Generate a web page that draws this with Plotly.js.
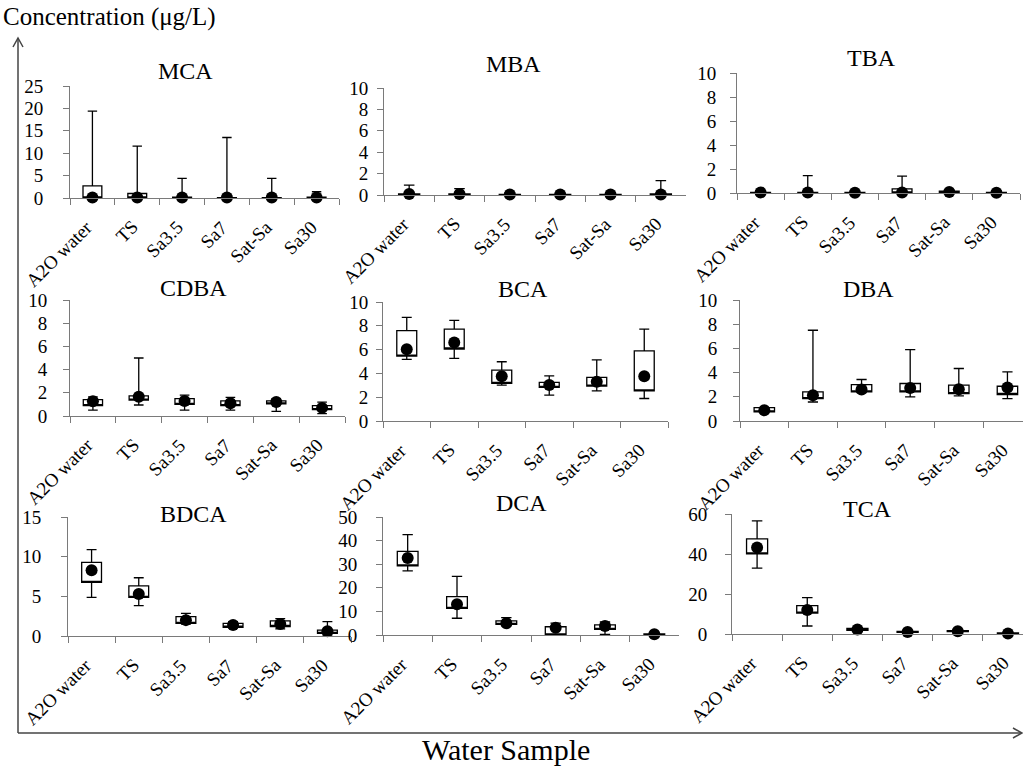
<!DOCTYPE html>
<html>
<head>
<meta charset="utf-8">
<script src="https://cdn.plot.ly/plotly-3.0.1.min.js"></script>
<style>html,body{margin:0;padding:0;background:#fff;}#chart{width:1023px;height:768px;}</style>
</head>
<body>
<div id="chart"></div>
<script>
// ---- Data ----
const samples = ["A2O water", "TS", "Sa3.5", "Sa7", "Sat-Sa", "Sa30"];
const compounds = ["MCA", "MBA", "TBA", "CDBA", "BCA", "DBA", "BDCA", "DCA", "TCA"];

const MCA_low  = [0, 0, 0, 0, 0, 0];
const MCA_q1   = [0, 0, 0, 0, 0, 0];
const MCA_q3   = [2.7, 1.0, 0.2, 0.1, 0.1, 0.2];
const MCA_high = [19.4, 11.6, 4.4, 13.5, 4.4, 1.4];
const MCA_mean = [0.1, 0.1, 0.1, 0.1, 0.1, 0.1];

const MBA_low  = [0, 0, 0, 0, 0, 0];
const MBA_q1   = [0, 0, 0, 0, 0, 0];
const MBA_q3   = [0.1, 0.1, 0.05, 0.05, 0.05, 0.1];
const MBA_high = [0.93, 0.6, 0.2, 0.1, 0.1, 1.34];
const MBA_mean = [0.1, 0.1, 0.05, 0.05, 0.05, 0.05];

const TBA_low  = [0, 0, 0, 0, 0, 0];
const TBA_q1   = [0, 0, 0, 0, 0, 0];
const TBA_q3   = [0.05, 0.05, 0.05, 0.35, 0.15, 0.05];
const TBA_high = [0.1, 1.45, 0.1, 1.4, 0.25, 0.1];
const TBA_mean = [0.05, 0.05, 0.03, 0.05, 0.08, 0.03];

const CDBA_low  = [0.5, 0.95, 0.5, 0.5, 0.4, 0.2];
const CDBA_q1   = [0.9, 1.36, 1.0, 0.9, 1.05, 0.55];
const CDBA_q3   = [1.42, 1.73, 1.5, 1.3, 1.3, 0.9];
const CDBA_high = [1.65, 5.0, 1.8, 1.6, 1.5, 1.2];
const CDBA_mean = [1.27, 1.65, 1.3, 1.1, 1.2, 0.7];

const BCA_low  = [5.18, 5.27, 3.02, 2.17, 2.53, 1.89];
const BCA_q1   = [5.46, 6.05, 3.16, 2.82, 2.93, 2.53];
const BCA_q3   = [7.6, 7.72, 4.28, 3.24, 3.66, 5.89];
const BCA_high = [8.7, 8.45, 4.98, 3.8, 5.13, 7.72];
const BCA_mean = [6.03, 6.59, 3.77, 3.02, 3.29, 3.77];

const DBA_low  = [0.75, 1.57, 2.35, 1.99, 2.07, 1.85];
const DBA_q1   = [0.75, 1.85, 2.4, 2.4, 2.27, 2.19];
const DBA_q3   = [1.1, 2.4, 3.0, 3.1, 2.96, 2.87];
const DBA_high = [1.1, 7.5, 3.43, 5.9, 4.34, 4.06];
const DBA_mean = [0.88, 2.13, 2.6, 2.73, 2.63, 2.76];

const BDCA_low  = [4.87, 3.82, 1.5, 1.0, 0.9, 0.1];
const BDCA_q1   = [6.75, 4.87, 1.59, 1.1, 1.2, 0.33];
const BDCA_q3   = [9.27, 6.33, 2.43, 1.6, 1.9, 0.75];
const BDCA_high = [10.9, 7.34, 2.85, 1.8, 2.2, 1.8];
const BDCA_mean = [8.3, 5.28, 2.0, 1.4, 1.5, 0.6];

const DCA_low  = [27.2, 7.1, 4.0, 0, 0.3, 0.1];
const DCA_q1   = [29.3, 11.3, 4.5, 0, 2.4, 0.1];
const DCA_q3   = [35.4, 16.3, 5.95, 3.5, 4.25, 0.5];
const DCA_high = [42.5, 24.8, 7.4, 5.0, 5.5, 0.6];
const DCA_mean = [32.6, 13.0, 5.0, 3.1, 3.8, 0.3];

const TCA_low  = [32.9, 4.0, 1.5, 0.6, 1.0, 0.1];
const TCA_q1   = [40.1, 10.4, 1.8, 0.8, 1.2, 0.2];
const TCA_q3   = [47.6, 14.2, 2.8, 1.3, 1.7, 0.5];
const TCA_high = [56.6, 18.2, 3.0, 1.5, 1.9, 0.6];
const TCA_mean = [43.3, 12.0, 2.3, 1.0, 1.4, 0.3];

const yTickLabels = {
  MCA: [0, 5, 10, 15, 20, 25],
  MBA: [0, 2, 4, 6, 8, 10],
  TBA: [0, 2, 4, 6, 8, 10],
  CDBA: [0, 2, 4, 6, 8, 10],
  BCA: [0, 2, 4, 6, 8, 10],
  DBA: [0, 2, 4, 6, 8, 10],
  BDCA: [0, 5, 10, 15],
  DCA: [0, 10, 20, 30, 40, 50],
  TCA: [0, 20, 40, 60]
};

const stats = {
  MCA: [MCA_low, MCA_q1, MCA_q3, MCA_high, MCA_mean],
  MBA: [MBA_low, MBA_q1, MBA_q3, MBA_high, MBA_mean],
  TBA: [TBA_low, TBA_q1, TBA_q3, TBA_high, TBA_mean],
  CDBA: [CDBA_low, CDBA_q1, CDBA_q3, CDBA_high, CDBA_mean],
  BCA: [BCA_low, BCA_q1, BCA_q3, BCA_high, BCA_mean],
  DBA: [DBA_low, DBA_q1, DBA_q3, DBA_high, DBA_mean],
  BDCA: [BDCA_low, BDCA_q1, BDCA_q3, BDCA_high, BDCA_mean],
  DCA: [DCA_low, DCA_q1, DCA_q3, DCA_high, DCA_mean],
  TCA: [TCA_low, TCA_q1, TCA_q3, TCA_high, TCA_mean]
};

// ---- Layout geometry (pixels in a 1023x768 page) ----
const W = 1023, H = 768;
const panelPx = {
  MCA:  {x: [70, 339],  y: [86, 198],  xr: [-0.5, 5.5], title: [185, 71], so: 16},
  MBA:  {x: [384, 686], y: [88, 195],  xr: [-0.5, 5.5], title: [513, 64], so: 5},
  TBA:  {x: [737, 1020], y: [73, 193], xr: [-0.5, 5.5], title: [871, 58], so: 10},
  CDBA: {x: [70, 345],  y: [300, 416], xr: [-0.5, 5.5], title: [193, 288], so: 12},
  BCA:  {x: [383, 668], y: [302, 421], xr: [-0.5, 5.5], title: [523, 289], so: 4},
  DBA:  {x: [740, 1023], y: [300, 421], xr: [-0.5, 5.32], title: [868, 289], so: 12},
  BDCA: {x: [68, 351],  y: [517, 636], xr: [-0.5, 5.5], title: [193, 514], so: 16},
  DCA:  {x: [383, 679], y: [517, 635], xr: [-0.5, 5.5], title: [521, 503], so: 15},
  TCA:  {x: [732, 1023], y: [514, 634], xr: [-0.5, 5.3], title: [867, 509], so: 14}
};

const FONT = "Liberation Serif";
const AXC = "#7a7a7a";
const traces = [];
const layout = {
  width: W, height: H,
  margin: {l: 0, r: 0, t: 0, b: 0},
  paper_bgcolor: "#fff", plot_bgcolor: "#fff",
  showlegend: false,
  font: {family: FONT, size: 18, color: "#000"},
  annotations: [], shapes: []
};

compounds.forEach((c, i) => {
  const n = i + 1;
  const xa = "x" + (n === 1 ? "" : n), ya = "y" + (n === 1 ? "" : n);
  const xk = "xaxis" + (n === 1 ? "" : n), yk = "yaxis" + (n === 1 ? "" : n);
  const [lo, q1, q3, hi, mean] = stats[c];
  const p = panelPx[c];
  const ticks = yTickLabels[c];
  traces.push({
    type: "box", x: samples, q1: q1, median: q1, q3: q3,
    lowerfence: lo, upperfence: hi,
    xaxis: xa, yaxis: ya, width: 0.42, whiskerwidth: 0.5,
    fillcolor: "#fff", line: {color: "#000", width: 1.3},
    boxpoints: false, hoverinfo: "skip"
  });
  traces.push({
    type: "scatter", mode: "markers", x: samples, y: mean,
    xaxis: xa, yaxis: ya, cliponaxis: false,
    marker: {color: "#000", size: 12}, hoverinfo: "skip"
  });
  layout[xk] = {
    type: "category", categoryorder: "array", categoryarray: samples,
    domain: [p.x[0] / W, Math.min(1, p.x[1] / W)], range: p.xr,
    anchor: ya, showline: true, linecolor: AXC, linewidth: 1,
    ticks: "outside", tickson: "boundaries", ticklen: 6, tickcolor: AXC,
    showticklabels: false, showgrid: false, zeroline: false, fixedrange: true
  };
  layout[yk] = {
    domain: [1 - p.y[1] / H, 1 - p.y[0] / H],
    range: [ticks[0], ticks[ticks.length - 1]],
    tickvals: ticks, ticktext: ticks.map(String),
    anchor: xa, showline: true, linecolor: AXC, linewidth: 1,
    ticks: "outside", ticklen: 6, tickcolor: AXC,
    showgrid: false, zeroline: false, ticklabelstandoff: p.so,
    tickfont: {family: FONT, size: 19, color: "#000"}, fixedrange: true
  };
  layout.annotations.push({
    text: c, xref: "paper", yref: "paper",
    x: p.title[0] / W, y: 1 - p.title[1] / H,
    xanchor: "center", yanchor: "middle", showarrow: false,
    font: {family: FONT, size: 24, color: "#000"}
  });
  // rotated category labels
  samples.forEach(s => {
    layout.annotations.push({
      text: s, xref: xa, yref: "paper", x: s, y: 1 - (p.y[1] + 17) / H,
      xanchor: "right", yanchor: "top", textangle: -45, showarrow: false,
      xshift: 6, borderpad: 0,
      font: {family: FONT, size: 19, color: "#000"}
    });
  });
});

// Overall axis titles
layout.annotations.push({
  text: "Concentration (\u03bcg/L)", xref: "paper", yref: "paper",
  x: 1 / W, y: 1 - 17 / H, xanchor: "left", yanchor: "middle",
  showarrow: false, font: {family: FONT, size: 25, color: "#000"}
});
layout.annotations.push({
  text: "Water Sample", xref: "paper", yref: "paper",
  x: 506 / W, y: 1 - 749 / H, xanchor: "center", yanchor: "middle",
  showarrow: false, font: {family: FONT, size: 30, color: "#000"}
});

// Outer frame with arrows
const px = v => v / W, py = v => 1 - v / H;
const FR = {color: "#444", width: 1.5};
layout.shapes.push(
  {type: "line", xref: "paper", yref: "paper", x0: px(18), y0: py(733), x1: px(18), y1: py(38), line: FR},
  {type: "line", xref: "paper", yref: "paper", x0: px(18), y0: py(733), x1: px(1021), y1: py(733), line: FR},
  {type: "path", xref: "paper", yref: "paper",
   path: `M ${px(13)} ${py(47)} L ${px(18)} ${py(38)} L ${px(23)} ${py(47)}`, line: FR},
  {type: "path", xref: "paper", yref: "paper",
   path: `M ${px(1013)} ${py(728)} L ${px(1022)} ${py(733)} L ${px(1013)} ${py(738)}`, line: FR}
);

Plotly.newPlot("chart", traces, layout, {staticPlot: true, displayModeBar: false});
</script>
</body>
</html>
